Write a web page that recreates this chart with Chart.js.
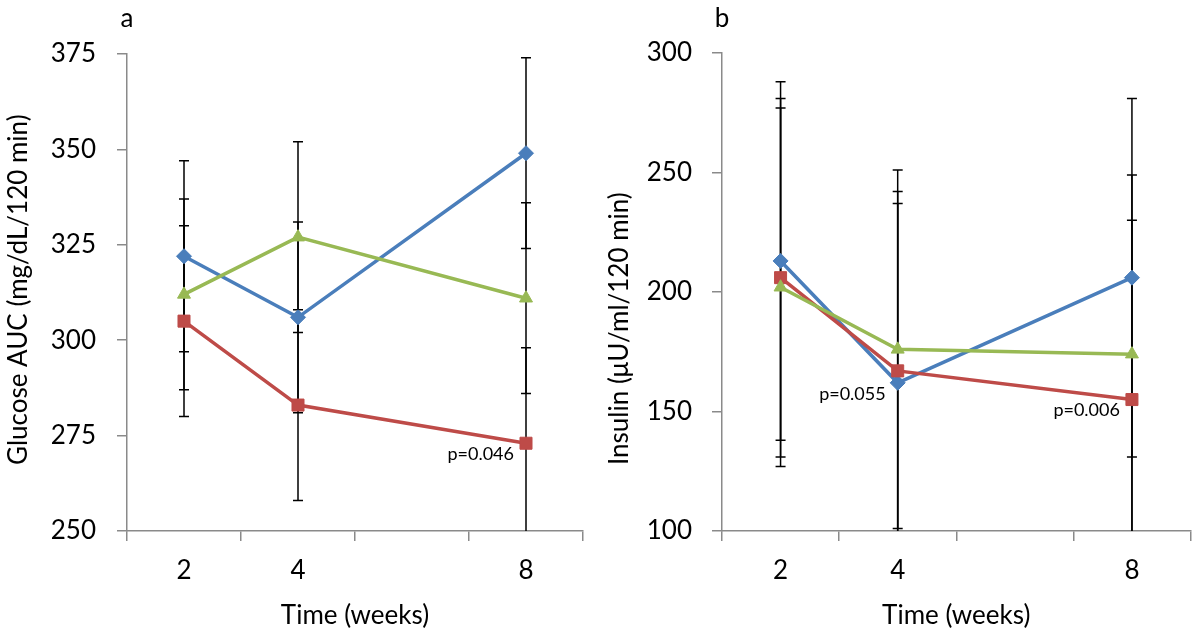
<!DOCTYPE html>
<html>
<head>
<meta charset="utf-8">
<script src="https://cdn.jsdelivr.net/npm/chart.js@4.4.0/dist/chart.umd.min.js"></script>
<style>
    body { margin: 0; background: #fff; }
    #contenedor { position: relative; width: 1200px; height: 637px; }
    canvas { position: absolute; top: 0; }
    #grafico1 { left: 0; }
    #grafico2 { left: 600px; }
</style>
</head>
<body>
<div id="contenedor">
    <canvas id="grafico1" width="600" height="637"></canvas>
    <canvas id="grafico2" width="600" height="637"></canvas>
</div>
<script>
// semanas (la categoria vacia deja el hueco de la semana 6)
const semanas = ['2', '4', '', '8'];

// a) glucosa AUC
const glucosaAzul = [322, 306, null, 349];
const glucosaRoja = [305, 283, null, 273];
const glucosaVerde = [312, 327, null, 311];
const errorGlucosaAzul = [25, 25, null, 25];
const errorGlucosaRoja = [25, 25, null, 25];
const errorGlucosaVerde = [25, 25, null, 25];
const ticksGlucosa = [250, 275, 300, 325, 350, 375];

// b) insulina
const insulinaAzul = [213, 162, null, 206];
const insulinaRoja = [206, 167, null, 155];
const insulinaVerde = [202, 176, null, 174];
const errorInsulinaAzul = [75, 75, null, 75];
const errorInsulinaRoja = [75, 75, null, 75];
const errorInsulinaVerde = [75, 75, null, 75];
const ticksInsulina = [100, 150, 200, 250, 300];

// etiquetas de p (serie: 0 azul, 1 roja, 2 verde)
const notasGlucosa = [{ serie: 1, punto: 3, texto: 'p=0.046' }];
const notasInsulina = [
    { serie: 0, punto: 1, texto: 'p=0.055' },
    { serie: 1, punto: 3, texto: 'p=0.006' }
];

const FUENTE = 'Lato, "Open Sans", sans-serif';
const GRIS = '#8a8a8a';

const barrasError = {
    id: 'barrasError',
    beforeDatasetsDraw(chart) {
        const { ctx, chartArea, scales: { x, y } } = chart;
        ctx.save();
        ctx.beginPath();
        ctx.rect(chartArea.left, chartArea.top, chartArea.right - chartArea.left, chartArea.bottom - chartArea.top);
        ctx.clip();
        ctx.strokeStyle = '#000';
        ctx.lineWidth = 1.5;
        chart.data.datasets.forEach(ds => {
            ds.errores.forEach((e, i) => {
                const v = ds.data[i];
                if (v == null || e == null) return;
                const px = x.getPixelForValue(i);
                const arriba = y.getPixelForValue(v + e);
                const abajo = y.getPixelForValue(v - e);
                ctx.beginPath();
                ctx.moveTo(px, arriba);
                ctx.lineTo(px, abajo);
                ctx.moveTo(px - 5, arriba);
                ctx.lineTo(px + 5, arriba);
                ctx.moveTo(px - 5, abajo);
                ctx.lineTo(px + 5, abajo);
                ctx.stroke();
            });
        });
        ctx.restore();
    }
};

const textos = {
    id: 'textos',
    afterDraw(chart, args, opts) {
        const { ctx, chartArea, scales: { x, y } } = chart;
        ctx.save();
        ctx.fillStyle = '#000';

        // letra del panel
        ctx.font = `26px ${FUENTE}`;
        ctx.textAlign = 'center';
        ctx.textBaseline = 'middle';
        ctx.fillText(opts.letra, chartArea.left, 19);

        // titulo del eje y, empieza abajo como en Excel
        ctx.save();
        ctx.translate(opts.tituloX, chartArea.bottom - 66);
        ctx.rotate(-Math.PI / 2);
        ctx.textAlign = 'left';
        ctx.fillText(opts.tituloY, 0, 0);
        ctx.restore();

        // valores de p
        ctx.font = `18px ${FUENTE}`;
        ctx.textAlign = 'right';
        opts.notas.forEach(n => {
            const v = chart.data.datasets[n.serie].data[n.punto];
            const px = x.getPixelForValue(n.punto);
            const py = y.getPixelForValue(v);
            ctx.fillText(n.texto, px - 12, py + 11);
        });
        ctx.restore();
    }
};

const crearGrafico = (canvas, series, errores, ticks, cfg) => {
    const estilos = [
        { label: 'Serie 1', color: '#4a7ebb', punto: 'rectRot', radio: 7.5, orden: 3 },
        { label: 'Serie 2', color: '#be4b48', punto: 'rect', radio: 8.5, orden: 2 },
        { label: 'Serie 3', color: '#98b954', punto: 'triangle', radio: 7.5, orden: 1 }
    ];
    return new Chart(canvas, {
        type: 'line',
        data: {
            labels: semanas,
            datasets: series.map((s, i) => ({
                label: estilos[i].label,
                data: s,
                errores: errores[i],
                borderColor: estilos[i].color,
                backgroundColor: estilos[i].color,
                borderWidth: 3.5,
                pointStyle: estilos[i].punto,
                pointRadius: estilos[i].radio,
                pointBorderWidth: 1,
                pointBackgroundColor: estilos[i].color,
                pointBorderColor: estilos[i].color,
                spanGaps: true,
                tension: 0,
                order: estilos[i].orden
            }))
        },
        options: {
            responsive: false,
            animation: false,
            layout: { padding: { top: cfg.arriba, right: cfg.derecha, left: 0, bottom: 0 } },
            plugins: {
                legend: { display: false },
                tooltip: { enabled: false },
                textos: { letra: cfg.letra, tituloY: cfg.tituloY, tituloX: cfg.tituloX, notas: cfg.notas }
            },
            scales: {
                x: {
                    type: 'category',
                    offset: true,
                    afterFit: (eje) => { eje.height = 106; },
                    grid: { display: true, offset: true, drawOnChartArea: false, tickLength: 10, color: GRIS, lineWidth: 1.5 },
                    border: { color: GRIS, width: 1.5 },
                    ticks: { color: '#000', font: { family: FUENTE, size: 26 }, padding: 14, maxRotation: 0, autoSkip: false },
                    title: { display: true, text: 'Time (weeks)', color: '#000', font: { family: FUENTE, size: 26 }, padding: { top: 0, bottom: 6 } }
                },
                y: {
                    min: ticks[0],
                    max: ticks[ticks.length - 1],
                    afterFit: (eje) => { eje.width = cfg.anchoY; },
                    afterBuildTicks: (eje) => { eje.ticks = ticks.map(v => ({ value: v })); },
                    grid: { display: true, drawOnChartArea: false, tickLength: 10, color: GRIS, lineWidth: 1.5 },
                    border: { color: GRIS, width: 1.5 },
                    ticks: { color: '#000', font: { family: FUENTE, size: 26 }, padding: cfg.relleno },
                    title: { display: false }
                }
            }
        },
        plugins: [barrasError, textos]
    });
};

const inicializarGraficos = () => {
    crearGrafico(document.getElementById('grafico1'),
        [glucosaAzul, glucosaRoja, glucosaVerde],
        [errorGlucosaAzul, errorGlucosaRoja, errorGlucosaVerde],
        ticksGlucosa,
        { letra: 'a', tituloY: 'Glucose AUC (mg/dL/120 min)', tituloX: 19, notas: notasGlucosa,
          arriba: 54, derecha: 17, anchoY: 127, relleno: 21 });

    crearGrafico(document.getElementById('grafico2'),
        [insulinaAzul, insulinaRoja, insulinaVerde],
        [errorInsulinaAzul, errorInsulinaRoja, errorInsulinaVerde],
        ticksInsulina,
        { letra: 'b', tituloY: 'Insulin (\u03bcU/ml/120 min)', tituloX: 20, notas: notasInsulina,
          arriba: 53, derecha: 8, anchoY: 122, relleno: 20 });
};

inicializarGraficos();
</script>
</body>
</html>
